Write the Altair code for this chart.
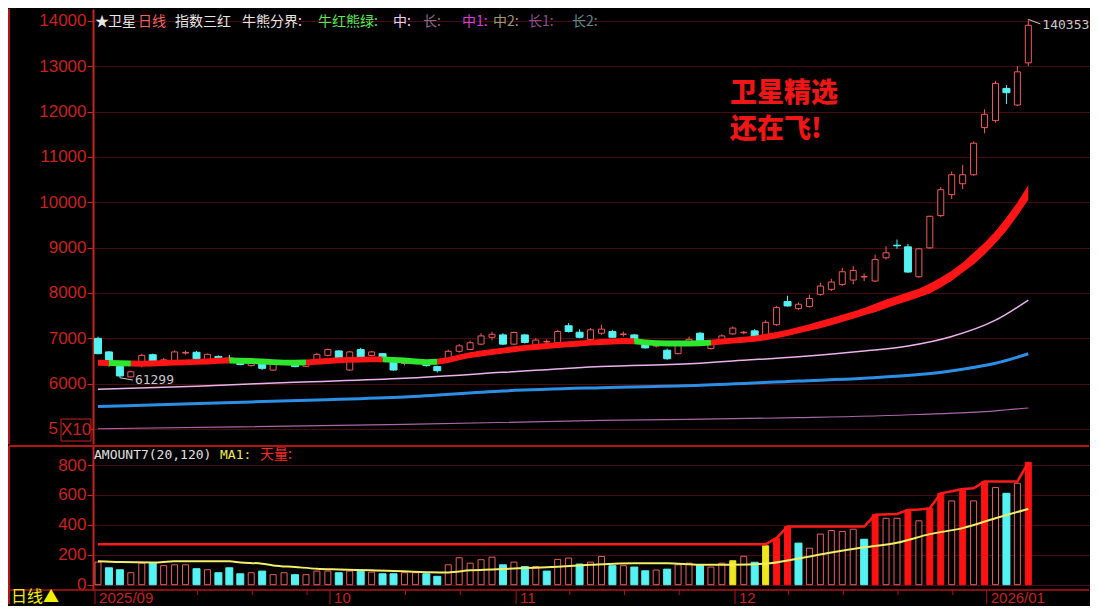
import altair as alt
import pandas as pd

# ---------------- data ----------------
# trading-day index 0 = 2025-09-01 ... 85 = 2026-01-08
opens = [7000, 6700, 6380, 6150, 6451, 6639, 6451, 6511, 6675, 6692,
         6526, 6601, 6565, 6474, 6398, 6451, 6300, 6470, 6451, 6383,
         6511, 6624, 6722, 6301, 6752, 6624, 6662, 6549, 6445, 6500,
         6451, 6376, 6526, 6714, 6752, 6872, 7023, 7075, 6872, 7075,
         6812, 6920, 6902, 7278, 7135, 6977, 7113, 7150, 7085, 7075,
         6887, 6830, 6737, 6662, 6887, 7113, 6774, 6940, 7098, 7122,
         7165, 7023, 7301, 7812, 7654, 7700, 7971, 8081, 8190, 8286,
         8352, 8264, 8777, 9055, 9018, 8359, 8996, 9707, 10169, 10410,
         10608, 11648, 11802, 12513, 12147, 13077]
closes = [6662, 6496, 6170, 6263, 6624, 6474, 6526, 6700, 6690, 6549,
          6647, 6571, 6565, 6421, 6474, 6338, 6436, 6478, 6376, 6474,
          6647, 6752, 6549, 6700, 6586, 6700, 6586, 6301, 6455, 6480,
          6398, 6286, 6714, 6835, 6902, 7053, 7090, 6872, 7128, 6910,
          6962, 6932, 7150, 7150, 7023, 7188, 7203, 7023, 7095, 6962,
          6789, 6840, 6549, 6865, 6977, 6902, 6865, 7053, 7226, 7134,
          7053, 7353, 7677, 7714, 7752, 7880, 8154, 8242, 8469, 8498,
          8366, 8740, 8887, 9041, 8462, 8975, 9692, 10278, 10608, 10608,
          11304, 11941, 12623, 12418, 12879, 13905]
highs = [7038, 6722, 6390, 6290, 6660, 6662, 6570, 6737, 6730, 6722,
         6662, 6624, 6630, 6496, 6496, 6474, 6474, 6500, 6474, 6511,
         6677, 6775, 6737, 6722, 6790, 6722, 6677, 6586, 6490, 6520,
         6474, 6398, 6752, 6872, 6947, 7113, 7143, 7113, 7150, 7098,
         7000, 6977, 7188, 7338, 7203, 7226, 7300, 7188, 7150, 7098,
         6902, 6872, 6775, 6887, 7038, 7135, 6902, 7090, 7263, 7165,
         7203, 7398, 7714, 7940, 7790, 7960, 8227, 8315, 8557, 8594,
         8432, 8850, 9033, 9180, 9084, 8996, 9707, 10336, 10681, 10828,
         11340, 12051, 12680, 12586, 13004, 14035.3]
lows = [6647, 6376, 6129.9, 6140, 6360, 6451, 6436, 6474, 6640, 6526,
        6511, 6549, 6496, 6406, 6383, 6300, 6286, 6450, 6361, 6368,
        6496, 6601, 6534, 6286, 6564, 6601, 6571, 6286, 6400, 6460,
        6376, 6248, 6511, 6684, 6737, 6850, 6955, 6850, 6850, 6887,
        6797, 6887, 6872, 7128, 7000, 6925, 7075, 7008, 7038, 6925,
        6774, 6797, 6526, 6647, 6850, 6887, 6752, 6925, 7075, 7090,
        7023, 7000, 7278, 7700, 7624, 7680, 7941, 8044, 8154, 8190,
        8264, 8242, 8740, 8975, 8447, 8337, 8975, 9678, 10073, 10293,
        10586, 11523, 11758, 12168, 12125, 13004]

# 牛熊分界 band (upper / lower edge) and its state
band_top = [6525, 6520, 6515, 6510, 6505, 6510, 6520, 6530, 6535, 6545,
            6555, 6570, 6575, 6570, 6565, 6555, 6540, 6530, 6525, 6535,
            6550, 6565, 6580, 6590, 6595, 6600, 6600, 6590, 6575, 6555,
            6540, 6550, 6585, 6645, 6695, 6730, 6765, 6795, 6825, 6855,
            6875, 6895, 6915, 6935, 6950, 6970, 6985, 6995, 7005, 7000,
            6975, 6960, 6950, 6950, 6950, 6955, 6970, 6995, 7015, 7035,
            7055, 7100, 7140, 7190, 7250, 7310, 7380, 7450, 7520, 7590,
            7670, 7765, 7855, 7935, 8015, 8095, 8210, 8340, 8490, 8670,
            8890, 9110, 9360, 9665, 9995, 10385]
band_bottom = [6395, 6390, 6385, 6380, 6375, 6380, 6390, 6400, 6405, 6415,
               6425, 6440, 6445, 6440, 6435, 6425, 6410, 6400, 6395, 6405,
               6420, 6435, 6450, 6460, 6465, 6470, 6470, 6460, 6445, 6425,
               6410, 6420, 6455, 6515, 6565, 6600, 6635, 6665, 6695, 6725,
               6745, 6765, 6785, 6805, 6820, 6840, 6855, 6865, 6875, 6870,
               6845, 6830, 6820, 6820, 6820, 6825, 6840, 6865, 6885, 6905,
               6925, 6960, 7000, 7050, 7110, 7170, 7220, 7290, 7360, 7430,
               7510, 7575, 7665, 7745, 7825, 7905, 7990, 8120, 8270, 8450,
               8630, 8850, 9100, 9375, 9705, 10055]
band_regime = (["bull"] * 1 + ["bear"] * 2 + ["bull"] * 9 + ["bear"] * 7 +
               ["bull"] * 7 + ["bear"] * 5 + ["bull"] * 18 + ["bear"] * 7 +
               ["bull"] * 30)

# moving-average lines of the price panel (read at sample days)
pink_idx = [0, 9, 18, 28, 37, 46, 55, 58, 64, 70, 74, 78, 82, 85]
pink_val = [5875, 5945, 6030, 6120, 6250, 6380, 6450, 6500, 6595, 6720, 6830, 7040, 7400, 7845]
blue_idx = [0, 10, 20, 28, 37, 46, 55, 64, 70, 75, 79, 82, 85]
blue_val = [5495, 5570, 5640, 5706, 5838, 5911, 5963, 6058, 6120, 6200, 6320, 6450, 6660]
purple_idx = [0, 28, 46, 64, 75, 82, 85]
purple_val = [5006, 5100, 5190, 5249, 5320, 5400, 5463]

# volume panel (AMOUNT7)
volumes = [151, 113, 100, 80, 144, 144, 127, 133, 133, 107,
           100, 80, 113, 73, 80, 91, 67, 80, 67, 67,
           91, 91, 80, 91, 91, 84, 73, 73, 80, 80,
           73, 56, 133, 180, 144, 167, 184, 133, 151, 122,
           122, 91, 169, 178, 138, 151, 189, 127, 127, 118,
           93, 98, 104, 133, 144, 133, 118, 144, 160, 190,
           150, 260, 311, 389, 278, 244, 338, 362, 356, 371,
           304, 467, 444, 444, 500, 427, 511, 611, 560, 640,
           560, 689, 649, 611, 678, 818]
vol_kind = ["up", "down", "down", "up", "up", "down", "up", "up", "up", "down",
            "up", "down", "down", "down", "up", "down", "up", "up", "down", "up",
            "up", "up", "down", "up", "down", "up", "down", "down", "up", "up",
            "down", "down", "up", "up", "up", "up", "up", "down", "up", "down",
            "up", "down", "up", "up", "down", "up", "up", "down", "up", "down",
            "down", "up", "down", "up", "up", "down", "up", "up", "yellow", "up",
            "down", "yellow", "sky", "sky", "down", "up", "up", "up", "up", "up",
            "down", "sky", "up", "up", "sky", "up", "sky", "sky", "up", "sky",
            "up", "sky", "up", "down", "up", "sky"]
ma1_idx = [0, 2, 5, 7, 12, 13, 15, 16, 18, 20, 22, 25, 30, 32, 34, 36, 39, 42, 45, 49,
           52, 55, 58, 61, 64, 67, 70, 73, 76, 79, 82, 85]
ma1_val = [156, 151, 149, 156, 156, 149, 140, 129, 118, 107, 102, 96, 84, 82, 96, 102, 111, 120, 133, 144,
           144, 133, 133, 140, 175, 215, 250, 280, 338, 378, 444, 507]
sky_idx = [0, 61, 62, 63, 70, 71, 73, 74, 75, 76, 77, 78, 79, 80, 81, 84, 85]
sky_val = [270, 271, 311, 389, 389, 467, 473, 500, 502, 511, 611, 624, 640, 644, 689, 689, 818]

# axis text
price_ticks = [5000, 6000, 7000, 8000, 9000, 10000, 11000, 12000, 13000, 14000]
vol_ticks = [0, 200, 400, 600, 800]
month_tick_idx = [-0.27, 21.2, 38.2, 58.2, 81.2]
month_labels = ["2025/09", "10", "11", "12", "2026/01"]
week_tick_idx = [4.1, 9.1, 14.1, 19.1, 28.1, 33.1, 43.1, 48.1, 53.1, 63.1, 68.1, 73.1, 78.1]

header_texts = ["★", "卫星", "日线", "指数三红", "牛熊分界:", "牛红熊绿:", "中:", "长:", "中1:", "中2:", "长1:", "长2:"]
header_colors = ["#e6e6e6", "#e6e6e6", "#f06464", "#e6e6e6", "#e6e6e6", "#5ae65a",
                 "#f0d2f0", "#8c6e8c", "#dc3cdc", "#a0966e", "#8c508c", "#5a8c8c"]
header_px = [2, 15, 45, 82, 149, 225, 300, 330, 369, 400, 435, 479]

# ---------------- styling ----------------
# whole canvas 1083 x 594 so that the page (8px margins) stays inside 1100 x 610
W, HP, HV, STRIP = 997, 435, 144, 15
PXD = 10.945                      # pixels per trading day in the reference
X0 = -0.457                       # domain start (first bar 5px right of the axis)
AXC = "#c8231e"
GRID = "#4a0c0c"
BORDER = "#b41414"
UP = "#f05a5a"
CYAN = "#55f2f2"
FLAT = "#e0e0e0"
CJK = "Noto Sans CJK SC"

xs = alt.Scale(domain=[X0, X0 + W / PXD], nice=False, zero=False, padding=0)
ps = alt.Scale(domain=[4669.1, 14264.7], nice=False, zero=False, padding=0)
vs = alt.Scale(domain=[-35.4, 927.0], nice=False, zero=False, padding=0)
X = alt.X("idx:Q", scale=xs, axis=None)

price_axis = alt.Axis(values=price_ticks, title=None,
                      labelExpr="datum.value == 5000 ? '' : format(datum.value, 'd')",
                      labelColor=AXC, labelFont="Liberation Sans", labelFontSize=17,
                      tickColor=AXC, tickSize=6, tickWidth=1, labelPadding=1,
                      domainColor=AXC, domainWidth=2, grid=True, gridColor=GRID, gridWidth=1)
vol_axis = alt.Axis(values=vol_ticks, title=None, labelColor=AXC, labelFont="Liberation Sans",
                    labelFontSize=17, tickColor=AXC, tickSize=6, tickWidth=1, labelPadding=1,
                    domainColor=AXC, domainWidth=2, grid=True, gridColor=GRID, gridWidth=1)


def PY(field):
    return alt.Y(field, scale=ps, axis=price_axis)


def VY(field):
    return alt.Y(field, scale=vs, axis=vol_axis)


n = len(opens)
kinds = ["up" if c > o else ("down" if c < o else "flat") for o, c in zip(opens, closes)]
candles = pd.DataFrame({"idx": list(range(n)), "open": opens, "high": highs, "low": lows,
                        "close": closes, "kind": kinds})

# band segments (each run shares its end point with the next run)
runs, i = [], 0
while i < n:
    j = i
    while j + 1 < n and band_regime[j + 1] == band_regime[i]:
        j += 1
    runs.append((i, j, band_regime[i]))
    i = j + 1
band_rows = []
for s, (a, b, r) in enumerate(runs):
    for k in range(a, min(b + 1, n - 1) + 1):
        band_rows.append({"idx": k, "top": band_top[k], "bot": band_bottom[k], "regime": r, "seg": s})
band_df = pd.DataFrame(band_rows)

one = pd.DataFrame({"k": [0]})


def wick(kind, color):
    return alt.Chart(candles).transform_filter(f"datum.kind == '{kind}'").mark_rule(
        strokeWidth=1, color=color).encode(x=X, y=PY("low:Q"), y2="high:Q")


wick_up, wick_dn, wick_fl = wick("up", UP), wick("down", CYAN), wick("flat", FLAT)
body_up = alt.Chart(candles).transform_filter("datum.kind == 'up'").mark_bar(
    size=6, fill="#000000", stroke=UP, strokeWidth=1).encode(x=X, y=PY("open:Q"), y2="close:Q")
body_dn = alt.Chart(candles).transform_filter("datum.kind == 'down'").mark_bar(
    size=7, fill=CYAN, stroke=CYAN, strokeWidth=1).encode(x=X, y=PY("open:Q"), y2="close:Q")
body_flat = alt.Chart(candles).transform_filter("datum.kind == 'flat'").mark_tick(
    color=FLAT, thickness=1, size=8, orient="horizontal").encode(x=X, y=PY("open:Q"))


def band_layer(regime, color):
    return alt.Chart(band_df).transform_filter(f"datum.regime == '{regime}'").mark_area(
        color=color, opacity=1).encode(x=X, y=alt.Y("top:Q", scale=ps, axis=price_axis, stack=None),
                                       y2="bot:Q", detail="seg:N")


band_bull = band_layer("bull", "#ff1515")
band_bear = band_layer("bear", "#2ee62e")


def ma_line(ix, val, color, width):
    df = pd.DataFrame({"idx": ix, "v": val})
    return alt.Chart(df).mark_line(color=color, strokeWidth=width, interpolate="monotone").encode(
        x=X, y=PY("v:Q"))


pink = ma_line(pink_idx, pink_val, "#eab4ea", 1.5)
blue = ma_line(blue_idx, blue_val, "#2b8fe6", 3)
purple = ma_line(purple_idx, purple_val, "#a868a8", 1.2)

# extreme labels
hi_i = max(range(n), key=lambda k: highs[k])
lo_i = min(range(n), key=lambda k: lows[k])
hi_df = pd.DataFrame({"idx": [hi_i], "v": [highs[hi_i]], "t": [str(round(highs[hi_i] * 10))]})
lo_df = pd.DataFrame({"idx": [lo_i], "v": [lows[lo_i]], "t": [str(round(lows[lo_i] * 10))]})
hi_lead = alt.Chart(hi_df).transform_calculate(i2="datum.idx + 1.1", v2="datum.v - 100").mark_rule(
    color="#c8c8c8", strokeWidth=1).encode(x=X, x2="i2:Q", y=PY("v:Q"), y2="v2:Q")
lo_lead = alt.Chart(lo_df).transform_calculate(i2="datum.idx + 1.2", v2="datum.v - 50").mark_rule(
    color="#c8c8c8", strokeWidth=1).encode(x=X, x2="i2:Q", y=PY("v:Q"), y2="v2:Q")
hi_txt = alt.Chart(hi_df).mark_text(align="left", baseline="middle", dx=14, dy=6, font="DejaVu Sans Mono",
                                    fontSize=13, color="#c8c8c8").encode(x=X, y=PY("v:Q"), text="t:N")
lo_txt = alt.Chart(lo_df).mark_text(align="left", baseline="middle", dx=15, dy=2, font="DejaVu Sans Mono",
                                    fontSize=13, color="#c8c8c8").encode(x=X, y=PY("v:Q"), text="t:N")

# header line: alphabetic baseline low enough that the font's ascent box stays on the canvas
header = [alt.Chart(one).mark_text(align="left", baseline="alphabetic", font=CJK, fontSize=14,
                                   color=c, text=t).encode(x=alt.value(px), y=alt.value(16.5))
          for t, c, px in zip(header_texts, header_colors, header_px)]

slogan = [alt.Chart(one).mark_text(align="left", baseline="middle", font=CJK, fontSize=27,
                                   fontWeight=900, color="#ee1616", text=t).encode(
    x=alt.value(637), y=alt.value(py)) for t, py in [("卫星精选", 85), ("还在飞!", 121)]]

left_line_p = alt.Chart(one).mark_rule(color=BORDER, strokeWidth=2).encode(
    x=alt.value(-84), y=alt.value(0), y2=alt.value(HP))
five = alt.Chart(one).mark_text(align="right", baseline="middle", font="Liberation Sans", fontSize=17,
                                color=AXC, text="5").encode(x=alt.value(-35), y=alt.value(420))
x10_box = alt.Chart(one).mark_rect(fill="#000000", stroke=AXC, strokeWidth=1).encode(
    x=alt.value(-32), x2=alt.value(-2), y=alt.value(410), y2=alt.value(432))
x10 = alt.Chart(one).mark_text(align="center", baseline="middle", font="Liberation Sans", fontSize=17,
                               color=AXC, text="X10").encode(x=alt.value(-17), y=alt.value(421))

price = alt.layer(wick_up, wick_dn, wick_fl, purple, blue, pink, body_up, body_dn, body_flat,
                  band_bull, band_bear, hi_lead, lo_lead, hi_txt, lo_txt, *header, *slogan,
                  left_line_p, x10_box, x10, five).properties(width=W, height=HP)

# ---------------- volume panel ----------------
vol_df = pd.DataFrame({"idx": list(range(n)), "v": volumes, "kind": vol_kind, "zero": [0] * n})


def vbars(kind, **mk):
    return alt.Chart(vol_df).transform_filter(f"datum.kind == '{kind}'").mark_bar(**mk).encode(
        x=X, y=VY("v:Q"), y2="zero:Q")


v_up = vbars("up", size=6, fill="#000000", stroke="#e8605c", strokeWidth=1)
v_dn = vbars("down", size=7, fill=CYAN, stroke=CYAN, strokeWidth=1)
v_ye = vbars("yellow", size=6, fill="#f0e81e", stroke="#f0e81e", strokeWidth=1)
v_sky = vbars("sky", size=6, fill="#ff1212", stroke="#ff1212", strokeWidth=1)

ma1 = alt.Chart(pd.DataFrame({"idx": ma1_idx, "v": ma1_val})).mark_line(
    color="#f2ee6a", strokeWidth=2, interpolate="monotone").encode(x=X, y=VY("v:Q"))
sky = alt.Chart(pd.DataFrame({"idx": sky_idx, "v": sky_val})).mark_line(
    color="#ff1a1a", strokeWidth=2.5).encode(x=X, y=VY("v:Q"))

vhead = [alt.Chart(one).mark_text(align="left", baseline="middle", font=f, fontSize=fs,
                                  color=c, text=t).encode(x=alt.value(px), y=alt.value(9))
         for t, c, px, f, fs in [("AMOUNT7(20,120)", "#e0e0e0", 1, "DejaVu Sans Mono", 13),
                                 ("MA1:", "#f0ec50", 127, "DejaVu Sans Mono", 13),
                                 ("天量:", "#ff2a2a", 167, CJK, 14)]]

sep_top = alt.Chart(one).mark_rule(color=BORDER, strokeWidth=2).encode(
    x=alt.value(-84), x2=alt.value(W - 1), y=alt.value(0))
sep_bot = alt.Chart(one).mark_rule(color=BORDER, strokeWidth=1.5).encode(
    x=alt.value(-84), x2=alt.value(W - 1), y=alt.value(HV))
left_line_v = alt.Chart(one).mark_rule(color=BORDER, strokeWidth=2).encode(
    x=alt.value(-84), y=alt.value(0), y2=alt.value(HV + STRIP - 1))

mt_df = pd.DataFrame({"idx": month_tick_idx, "t": month_labels})
month_ticks = alt.Chart(mt_df).mark_rule(color=BORDER, strokeWidth=1).encode(
    x=X, y=alt.value(HV), y2=alt.value(HV + STRIP - 1))
month_text = alt.Chart(mt_df).mark_text(align="left", baseline="middle", dx=4, font="Liberation Sans",
                                        fontSize=15, color=AXC).encode(x=X, y=alt.value(HV + 8), text="t:N")
week_ticks = alt.Chart(pd.DataFrame({"idx": week_tick_idx})).mark_rule(color=BORDER, strokeWidth=1).encode(
    x=X, y=alt.value(HV), y2=alt.value(HV + 5))
day_label = alt.Chart(one).mark_text(align="left", baseline="middle", font=CJK, fontSize=16,
                                     color="#f2f000", text="日线▲").encode(x=alt.value(-82), y=alt.value(HV + 7))

volume = alt.layer(v_up, v_dn, v_ye, v_sky, ma1, sky, *vhead,
                   sep_top, sep_bot, left_line_v, month_ticks, month_text, week_ticks,
                   day_label).properties(width=W, height=HV)

chart = alt.vconcat(price, volume, spacing=0).properties(padding=0).configure(
    background="#000000").configure_view(stroke=None)

chart.save("out.html", embed_options={"renderer": "svg", "actions": False})
